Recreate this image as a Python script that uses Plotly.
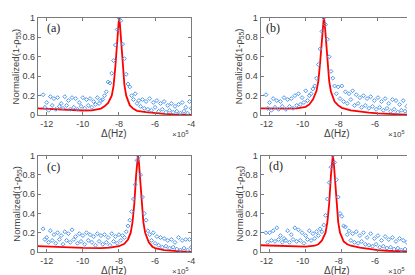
import plotly.graph_objects as go

# ---------------- data ----------------
# measured detuning grid (units of 1e5 Hz), 83 samples
DELTA = [round(-12.2 + 0.1 * i, 1) for i in range(83)]

MEAS_A = [0.21, 0.08, 0.13, 0.05, 0.19, 0.10, 0.17, 0.06, 0.18, 0.09,
          0.12, 0.07, 0.19, 0.10, 0.15, 0.06, 0.18, 0.08, 0.17, 0.06,
          0.13, 0.09, 0.18, 0.07, 0.16, 0.10, 0.17, 0.08, 0.14, 0.11,
          0.18, 0.12, 0.15, 0.16, 0.20, 0.24, 0.34, 0.33, 0.43, 0.56,
          0.72, 0.88, 1.00, 0.97, 0.73, 0.58, 0.42, 0.32, 0.29, 0.20,
          0.16, 0.22, 0.12, 0.15, 0.09, 0.16, 0.07, 0.14, 0.06, 0.17,
          0.05, 0.13, 0.08, 0.15, 0.04, 0.12, 0.06, 0.14, 0.03, 0.10,
          0.05, 0.12, 0.03, 0.09, 0.04, 0.11, 0.02, 0.13, 0.04, 0.08,
          0.02, 0.14, 0.07]

MEAS_B = [0.21, 0.07, 0.13, 0.05, 0.17, 0.08, 0.15, 0.06, 0.14, 0.09,
          0.18, 0.06, 0.16, 0.09, 0.17, 0.07, 0.20, 0.10, 0.22, 0.11,
          0.18, 0.13, 0.25, 0.15, 0.20, 0.22, 0.27, 0.30, 0.38, 0.52,
          0.68, 0.86, 1.00, 0.93, 0.78, 0.60, 0.45, 0.38, 0.30, 0.22,
          0.29, 0.17, 0.30, 0.14, 0.24, 0.12, 0.22, 0.16, 0.25, 0.10,
          0.21, 0.12, 0.18, 0.08, 0.20, 0.10, 0.17, 0.07, 0.19, 0.09,
          0.15, 0.06, 0.18, 0.08, 0.14, 0.05, 0.17, 0.07, 0.12, 0.04,
          0.16, 0.06, 0.15, 0.03, 0.11, 0.05, 0.15, 0.04, 0.09, 0.03,
          0.13, 0.02, 0.05]

MEAS_C = [0.24, 0.13, 0.15, 0.10, 0.22, 0.12, 0.18, 0.09, 0.20, 0.13,
          0.17, 0.08, 0.21, 0.12, 0.19, 0.10, 0.23, 0.13, 0.16, 0.09,
          0.19, 0.11, 0.17, 0.08, 0.20, 0.12, 0.18, 0.10, 0.16, 0.07,
          0.19, 0.11, 0.17, 0.08, 0.18, 0.10, 0.15, 0.07, 0.19, 0.11,
          0.16, 0.09, 0.18, 0.12, 0.17, 0.15, 0.21, 0.27, 0.33, 0.42,
          0.55, 0.70, 0.95, 0.99, 0.80, 0.57, 0.40, 0.33, 0.22, 0.18,
          0.12, 0.20, 0.09, 0.16, 0.07, 0.15, 0.05, 0.14, 0.06, 0.12,
          0.04, 0.13, 0.05, 0.10, 0.03, 0.15, 0.02, 0.12, 0.04, 0.13,
          0.02, 0.13, 0.05]

MEAS_D = [0.20, 0.10, 0.20, 0.12, 0.22, 0.11, 0.25, 0.13, 0.17, 0.10,
          0.14, 0.12, 0.22, 0.10, 0.18, 0.13, 0.25, 0.11, 0.23, 0.12,
          0.20, 0.09, 0.17, 0.13, 0.22, 0.12, 0.19, 0.14, 0.21, 0.17,
          0.24, 0.21, 0.28, 0.38, 0.55, 0.72, 0.88, 1.00, 0.93, 0.75,
          0.57, 0.40, 0.37, 0.27, 0.26, 0.18, 0.22, 0.12, 0.19, 0.10,
          0.21, 0.09, 0.17, 0.11, 0.20, 0.08, 0.15, 0.07, 0.19, 0.06,
          0.14, 0.08, 0.17, 0.05, 0.12, 0.06, 0.16, 0.04, 0.13, 0.05,
          0.15, 0.03, 0.11, 0.04, 0.14, 0.02, 0.12, 0.03, 0.10, 0.02,
          0.15, 0.04, 0.06]

FIT_X_A = [-12.5, -12, -11.5, -11, -10.5, -10, -9.5, -9.2, -9, -8.8, -8.6, -8.4,
           -8.3, -8.2, -8.1, -8.05, -8.0, -7.95, -7.9, -7.8, -7.7, -7.6, -7.4,
           -7.2, -7.0, -6.5, -6, -5.5, -5, -4.5, -4]
FIT_Y_A = [0.07, 0.065, 0.06, 0.055, 0.05, 0.048, 0.05, 0.058, 0.068, 0.09, 0.125, 0.2,
           0.3, 0.5, 0.8, 0.94, 1.0, 0.94, 0.8, 0.5, 0.31, 0.2, 0.1,
           0.065, 0.045, 0.03, 0.02, 0.013, 0.008, 0.004, 0.002]

FIT_X_B = [-12.5, -12, -11.5, -11, -10.5, -10, -9.8, -9.6, -9.4, -9.3, -9.2, -9.1,
           -9.05, -9.0, -8.95, -8.9, -8.8, -8.7, -8.6, -8.4, -8.2, -8.0, -7.5,
           -7.0, -6.5, -6, -5.5, -5, -4.5, -4]
FIT_Y_B = [0.07, 0.068, 0.066, 0.066, 0.07, 0.085, 0.11, 0.16, 0.25, 0.35, 0.54, 0.82,
           0.95, 1.0, 0.95, 0.82, 0.54, 0.35, 0.24, 0.14, 0.1, 0.075, 0.05,
           0.035, 0.025, 0.018, 0.012, 0.008, 0.005, 0.003]

FIT_X_C = [-12.5, -12, -11, -10, -9, -8.5, -8, -7.7, -7.5, -7.35, -7.25, -7.15,
           -7.05, -7.0, -6.95, -6.9, -6.85, -6.75, -6.65, -6.55, -6.35, -6.15,
           -6.0, -5.5, -5, -4.5, -4]
FIT_Y_C = [0.06, 0.055, 0.048, 0.042, 0.04, 0.045, 0.06, 0.085, 0.13, 0.2, 0.31, 0.5,
           0.8, 0.94, 1.0, 0.94, 0.8, 0.5, 0.31, 0.2, 0.1, 0.055,
           0.04, 0.02, 0.01, 0.005, 0.002]

FIT_X_D = [-12.5, -12, -11.5, -11, -10.5, -10, -9.5, -9.3, -9.1, -8.9, -8.8, -8.7,
           -8.6, -8.55, -8.5, -8.45, -8.4, -8.3, -8.2, -8.1, -7.9, -7.7, -7.5,
           -7.0, -6.5, -6, -5.5, -5, -4.5, -4]
FIT_Y_D = [0.07, 0.066, 0.062, 0.058, 0.055, 0.055, 0.065, 0.08, 0.12, 0.2, 0.31, 0.5,
           0.8, 0.94, 1.0, 0.94, 0.8, 0.5, 0.31, 0.2, 0.11, 0.08, 0.065,
           0.045, 0.03, 0.02, 0.013, 0.008, 0.005, 0.003]

PANEL_LABELS = ["(a)", "(b)", "(c)", "(d)"]
X_TICKS = [-12, -10, -8, -6, -4]
X_TICK_TEXT = ["-12", "-10", "-8", "-6", "-4"]
Y_TICKS = [0, 0.2, 0.4, 0.6, 0.8, 1]
Y_TICK_TEXT = ["0", "0.2", "0.4", "0.6", "0.8", "1"]

# ---------------- figure ----------------
W, H = 415, 275
fig = go.Figure()

panels = [
    (MEAS_A, FIT_X_A, FIT_Y_A, (30, 185), (5, 106)),
    (MEAS_B, FIT_X_B, FIT_Y_B, (255, 410), (5, 106)),
    (MEAS_C, FIT_X_C, FIT_Y_C, (30, 185), (148, 248)),
    (MEAS_D, FIT_X_D, FIT_Y_D, (255, 410), (148, 248)),
]
label_pos = [(37, 16), (258, 16), (37, 160), (262, 159)]
exp_right = [185, 403, 185, 403]
label_shift = [0, -3, 0, -3]

AX_COL = "#7a7a7a"
TXT_COL = "#404040"
FONT = "Liberation Sans, Arial, sans-serif"
MK_COL = "rgb(80,150,235)"

for i, (meas, fx, fy, (x0, x1), (y0, y1)) in enumerate(panels):
    n = i + 1
    xa = "x" if n == 1 else f"x{n}"
    ya = "y" if n == 1 else f"y{n}"
    fig.add_trace(go.Scatter(x=fx, y=fy, mode="lines",
                             line=dict(color="#ff0000", width=1.8),
                             xaxis=xa, yaxis=ya, showlegend=False,
                             hoverinfo="skip"))
    fig.add_trace(go.Scatter(x=DELTA, y=meas, mode="markers",
                             marker=dict(symbol="diamond-open", size=3,
                                         color=MK_COL,
                                         line=dict(width=1, color=MK_COL)),
                             xaxis=xa, yaxis=ya, showlegend=False))
    common = dict(showline=True, linecolor=AX_COL, linewidth=1, mirror="ticks",
                  ticks="inside", ticklen=3, tickcolor=AX_COL, showgrid=False,
                  zeroline=False, tickfont=dict(size=9, color=TXT_COL, family=FONT))
    xkey = "xaxis" if n == 1 else f"xaxis{n}"
    ykey = "yaxis" if n == 1 else f"yaxis{n}"
    fig.layout[xkey] = dict(common, domain=[x0 / W, x1 / W], range=[-12.5, -4],
                            tickvals=X_TICKS, ticktext=X_TICK_TEXT, anchor=ya,
                            ticklabelshift=label_shift[i])
    fig.layout[ykey] = dict(common, domain=[1 - y1 / H, 1 - y0 / H], range=[0, 1],
                            tickvals=Y_TICKS, ticktext=Y_TICK_TEXT, anchor=xa)

    cx = (x0 + x1) / 2
    # x title
    fig.add_annotation(x=cx / W, y=1 - (y1 + 19) / H, xref="paper", yref="paper",
                       text="Δ(Hz)", showarrow=False, xanchor="center", yanchor="middle",
                       font=dict(size=10, color=TXT_COL, family=FONT))
    # exponent
    fig.add_annotation(x=exp_right[i] / W, y=1 - (y1 + 20) / H, xref="paper", yref="paper",
                       text="×10<sup>5</sup>", showarrow=False, xanchor="right",
                       yanchor="middle", font=dict(size=8, color=TXT_COL, family=FONT))
    # y title
    fig.add_annotation(x=(x0 - 21) / W, y=1 - ((y0 + y1) / 2) / H, xref="paper",
                       yref="paper", text="Normalized(1-ρ<sub>55</sub>)", textangle=-90,
                       showarrow=False, xanchor="center", yanchor="middle",
                       font=dict(size=9.5, color=TXT_COL, family=FONT))
    # panel label
    lx, ly = label_pos[i]
    fig.add_annotation(x=lx / W, y=1 - ly / H, xref="paper", yref="paper",
                       text=PANEL_LABELS[i], showarrow=False, xanchor="left",
                       yanchor="middle",
                       font=dict(size=12, color="#222",
                                 family="Liberation Serif, Times New Roman, serif"))

fig.update_layout(width=W, height=H, margin=dict(l=0, r=0, t=0, b=0),
                  plot_bgcolor="white", paper_bgcolor="white")

fig.write_html("out.html")
